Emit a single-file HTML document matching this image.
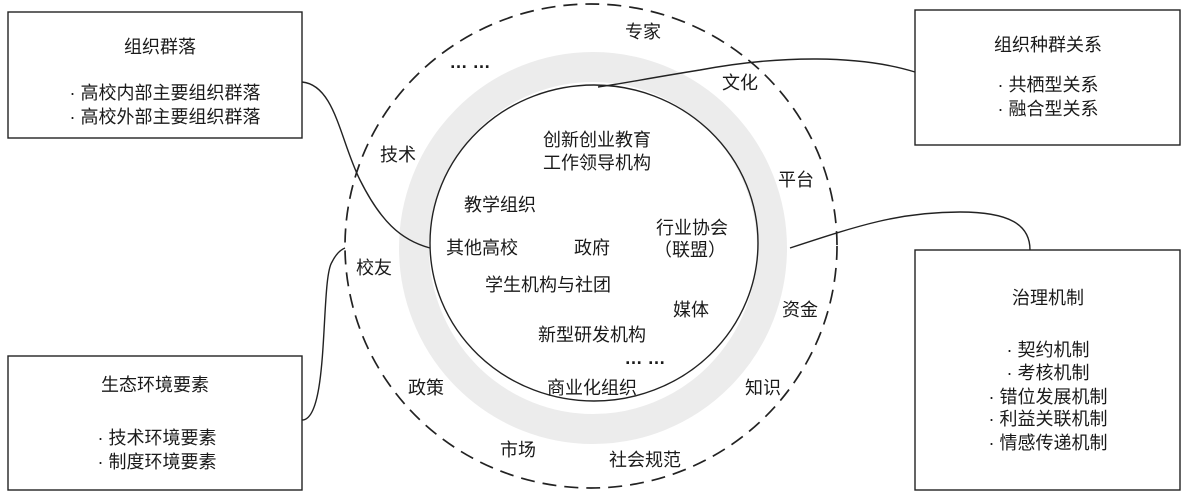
<!DOCTYPE html>
<html><head><meta charset="utf-8"><style>
body{margin:0;background:#fff;}
svg{display:block;font-family:"Liberation Sans","Noto Sans CJK SC",sans-serif;}
text{font-size:18px;fill:#1a1a1a;text-anchor:middle;}
</style></head><body>
<svg width="1188" height="496" viewBox="0 0 1188 496">
<ellipse cx="593" cy="248" rx="179" ry="181" fill="none" stroke="#ececec" stroke-width="30"/>
<ellipse cx="594" cy="243" rx="164" ry="158" fill="none" stroke="#222" stroke-width="1.4"/>
<ellipse cx="591" cy="246" rx="246" ry="242" fill="none" stroke="#222" stroke-width="1.7" stroke-dasharray="14,8"/>
<g fill="none" stroke="#222" stroke-width="1.4">
<rect x="8" y="12" width="294" height="126"/>
<rect x="8" y="356" width="294" height="134"/>
<rect x="915" y="10" width="265" height="135"/>
<rect x="915" y="250" width="265" height="240"/>
<path d="M302,82 C335,85 340,140 360,180 C380,220 400,240 430,248"/>
<path d="M302,420 C330,420 320,280 332,262 C336,254 340,250 345,248"/>
<path d="M915,72 C860,55 780,55 700,70 C650,78 620,84 598,87"/>
<path d="M790,248 C860,225 900,212 960,212 C1010,212 1030,225 1030,250"/>
</g>
<text x="643" y="38">专家</text>
<text x="470" y="68" style="font-weight:bold">… …</text>
<text x="740" y="89">文化</text>
<text x="398" y="161">技术</text>
<text x="796" y="186">平台</text>
<text x="374" y="274">校友</text>
<text x="800" y="316">资金</text>
<text x="426" y="394">政策</text>
<text x="763" y="394">知识</text>
<text x="518" y="456">市场</text>
<text x="645" y="466">社会规范</text>
<text x="597" y="146">创新创业教育</text>
<text x="597" y="169">工作领导机构</text>
<text x="500" y="211">教学组织</text>
<text x="482" y="254">其他高校</text>
<text x="592" y="254">政府</text>
<text x="692" y="234">行业协会</text>
<text x="690" y="256">（联盟）</text>
<text x="548" y="291">学生机构与社团</text>
<text x="691" y="316">媒体</text>
<text x="592" y="341">新型研发机构</text>
<text x="645" y="364" style="font-weight:bold">… …</text>
<text x="592" y="394">商业化组织</text>
<text x="160" y="53">组织群落</text>
<text x="165" y="99">· 高校内部主要组织群落</text>
<text x="165" y="123">· 高校外部主要组织群落</text>
<text x="1048" y="51">组织种群关系</text>
<text x="1048" y="91">· 共栖型关系</text>
<text x="1048" y="115">· 融合型关系</text>
<text x="155" y="391">生态环境要素</text>
<text x="157" y="444">· 技术环境要素</text>
<text x="157" y="468">· 制度环境要素</text>
<text x="1048" y="304">治理机制</text>
<text x="1048" y="356">· 契约机制</text>
<text x="1048" y="379">· 考核机制</text>
<text x="1048" y="403">· 错位发展机制</text>
<text x="1048" y="425">· 利益关联机制</text>
<text x="1048" y="449">· 情感传递机制</text>
</svg>
</body></html>
